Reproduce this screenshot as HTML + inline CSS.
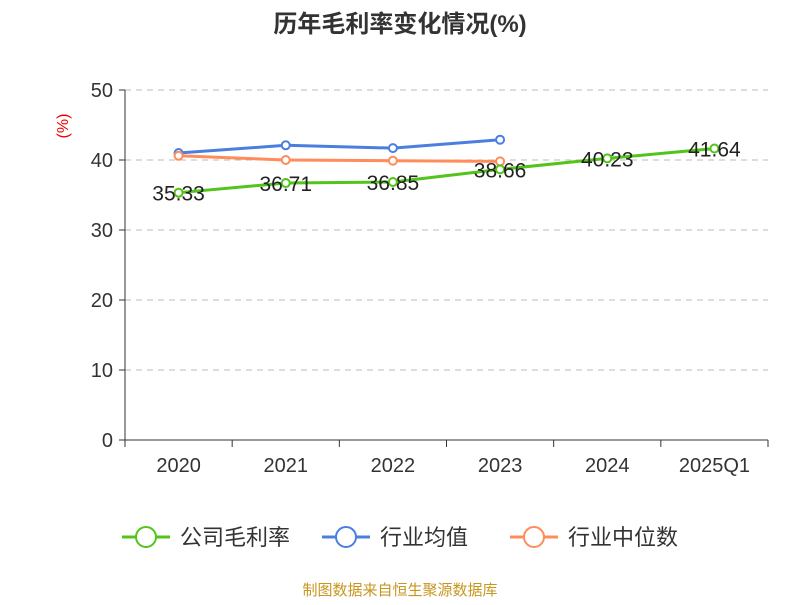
<!DOCTYPE html>
<html><head><meta charset="utf-8"><style>
body{margin:0;background:#fff;width:800px;height:600px;overflow:hidden;font-family:"Liberation Sans","Noto Sans CJK SC",sans-serif}
</style></head><body>
<svg id="c" width="800" height="600" xmlns="http://www.w3.org/2000/svg">
<text x="400" y="32" text-anchor="middle" font-size="24" font-weight="bold" fill="#333" font-family="Liberation Sans, Noto Sans CJK SC, sans-serif">历年毛利率变化情况(%)</text>
<text x="68" y="126" fill="#e00" font-size="16" transform="rotate(-90 68 126)" text-anchor="middle">(%)</text>
<g id="grid"></g><g id="axes"></g><g id="series"></g>
<g font-family="Liberation Sans, Noto Sans CJK SC, sans-serif" font-size="22" fill="#333">
<g><line x1="122" y1="537" x2="170" y2="537" stroke="#52c41a" stroke-width="3"/><circle cx="146" cy="537" r="10" fill="#fff" stroke="#52c41a" stroke-width="2"/><text x="180" y="545">公司毛利率</text></g>
<g><line x1="322" y1="537" x2="370" y2="537" stroke="#4a7fe0" stroke-width="3"/><circle cx="346" cy="537" r="10" fill="#fff" stroke="#4a7fe0" stroke-width="2"/><text x="380" y="545">行业均值</text></g>
<g><line x1="510" y1="537" x2="558" y2="537" stroke="#ff8c5a" stroke-width="3"/><circle cx="534" cy="537" r="10" fill="#fff" stroke="#ff8c5a" stroke-width="2"/><text x="568" y="545">行业中位数</text></g>
</g>
<text x="400" y="595" text-anchor="middle" font-size="15" fill="#c8961e">制图数据来自恒生聚源数据库</text>
</svg>
<script>
const categories=["2020","2021","2022","2023","2024","2025Q1"];
const grossMargin=[35.33,36.71,36.85,38.66,40.23,41.64];
const industryAvg=[41.0,42.1,41.7,42.9];
const industryMedian=[40.6,40.0,39.9,39.8];
const yTicks=[0,10,20,30,40,50];
const NS="http://www.w3.org/2000/svg";
const x0=125,x1=768,y0=440,y1=90;
const bw=(x1-x0)/categories.length;
const xs=i=>x0+bw*(i+0.5);
const ys=v=>y0-(v/50)*(y0-y1);
function mk(t,a,p){const e=document.createElementNS(NS,t);for(const k in a)e.setAttribute(k,a[k]);p.appendChild(e);return e;}
const grid=document.getElementById('grid'),axes=document.getElementById('axes'),ser=document.getElementById('series');
yTicks.forEach(v=>{
  if(v>0){const l=mk('line',{x1:x0,x2:x1,y1:ys(v),y2:ys(v),stroke:'#bbb','stroke-dasharray':'6,5'},grid);
  
  }
  mk('line',{x1:x0-6,x2:x0,y1:ys(v),y2:ys(v),stroke:'#333'},axes);
  const t=mk('text',{x:x0-12,y:ys(v)+7,'text-anchor':'end','font-size':20,fill:'#333'},axes);t.textContent=v;
  
  
});
mk('line',{x1:x0,x2:x0,y1:y1,y2:y0,stroke:'#333'},axes);
mk('line',{x1:x0,x2:x1,y1:y0,y2:y0,stroke:'#333'},axes);
for(let i=0;i<=categories.length;i++)mk('line',{x1:x0+bw*i,x2:x0+bw*i,y1:y0,y2:y0+7,stroke:'#333'},axes);
categories.forEach((c,i)=>{const t=mk('text',{x:xs(i),y:472,'text-anchor':'middle','font-size':20,fill:'#333'},axes);t.textContent=c;
  
  });
function line(data,color,name,labels){
  const g=mk('g',{},ser);
  
  
  mk('polyline',{points:data.map((v,i)=>xs(i)+','+ys(v)).join(' '),fill:'none',stroke:color,'stroke-width':3},g);
  data.forEach((v,i)=>{const c=mk('circle',{cx:xs(i),cy:ys(v),r:4,fill:'#fff',stroke:color,'stroke-width':2},g);
    
    
    if(labels){const t=mk('text',{x:xs(i),y:ys(v)+8,'text-anchor':'middle','font-size':21,fill:'#222'},g);t.textContent=v.toFixed(2);
      
      }
  });
}
line(industryAvg,'#4a7fe0','industry-avg-line',false);
line(industryMedian,'#ff8c5a','industry-median-line',false);
line(grossMargin,'#52c41a','gross-margin-line',true);
</script>
</body></html>
